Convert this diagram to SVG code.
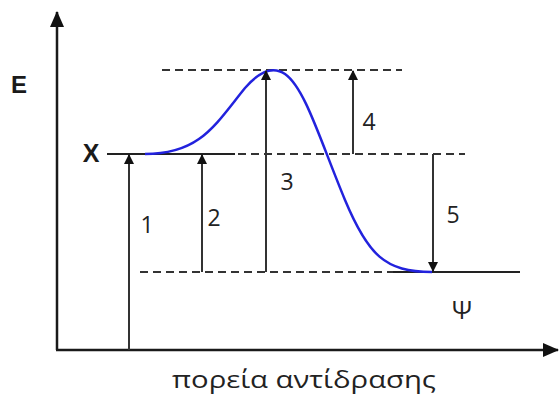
<svg xmlns="http://www.w3.org/2000/svg" width="559" height="394" viewBox="0 0 559 394">
<style>
.ax{stroke:#1a1a1a;stroke-width:2.5;fill:none}
.ln{stroke:#222;stroke-width:2;fill:none}
.ds{stroke:#333;stroke-width:2;stroke-dasharray:8,5;fill:none}
.ar{stroke:#333;stroke-width:2;fill:none}
.t{font-family:"Open Sans","Liberation Sans",sans-serif;fill:#222}
.b{font-family:"Liberation Sans",Arial,sans-serif;font-weight:bold;fill:#1a1a1a}
.n{font-size:23px}
</style>
<defs>
<marker id="ah" markerWidth="10" markerHeight="10" refX="9" refY="5" orient="auto" markerUnits="userSpaceOnUse"><path d="M0,0 L10,5 L0,10 Z" fill="#111"/></marker>
<marker id="axh" markerWidth="16" markerHeight="14" refX="15" refY="7" orient="auto" markerUnits="userSpaceOnUse"><path d="M0,0 L16,7 L0,14 Z" fill="#111"/></marker>
</defs>
<g id="axes">
<line class="ax" x1="57" y1="350" x2="57" y2="12" marker-end="url(#axh)"/>
<line class="ax" x1="56" y1="350" x2="558" y2="350" marker-end="url(#axh)"/>
<text class="b" x="19" y="93" style="font-size:24px" text-anchor="middle">E</text>
<text class="t" x="172" y="388" style="font-size:24px" textLength="264" lengthAdjust="spacingAndGlyphs">πορεία αντίδρασης</text>
</g>
<g id="levels">
<line class="ln" x1="107" y1="154" x2="235" y2="154"/>
<line class="ds" x1="238" y1="154" x2="465" y2="154"/>
<line class="ds" x1="162" y1="70" x2="402" y2="70"/>
<line class="ds" x1="140" y1="272" x2="393" y2="272"/>
<line class="ln" x1="393" y1="272" x2="520" y2="272"/>
<text class="b" x="91" y="162" style="font-size:25px" text-anchor="middle">X</text>
<text class="t" x="462" y="319" style="font-size:25px" text-anchor="middle">Ψ</text>
</g>
<g id="curve">
<path d="M145,154 C200,154 215,125 245,88 C258,73 272,65 285,74 C305,88 320,140 345,200 C368,255 385,272 432,272" stroke="#2222dd" stroke-width="2.5" fill="none"/>
</g>
<g id="connectors">
<line class="ar" x1="129" y1="350" x2="129" y2="155" marker-end="url(#ah)"/>
<line class="ar" x1="202" y1="272" x2="202" y2="155" marker-end="url(#ah)"/>
<line class="ar" x1="266" y1="272" x2="266" y2="71" marker-end="url(#ah)"/>
<line class="ar" x1="353" y1="154" x2="353" y2="71" marker-end="url(#ah)"/>
<line class="ar" x1="433" y1="154" x2="433" y2="271" marker-end="url(#ah)"/>
</g>
<g id="labels">
<text class="t n" x="147" y="233" text-anchor="middle">1</text>
<text class="t n" x="214" y="226" text-anchor="middle">2</text>
<text class="t n" x="287" y="190" text-anchor="middle">3</text>
<text class="t n" x="369" y="130" text-anchor="middle">4</text>
<text class="t n" x="453" y="223" text-anchor="middle">5</text>
</g>
</svg>
